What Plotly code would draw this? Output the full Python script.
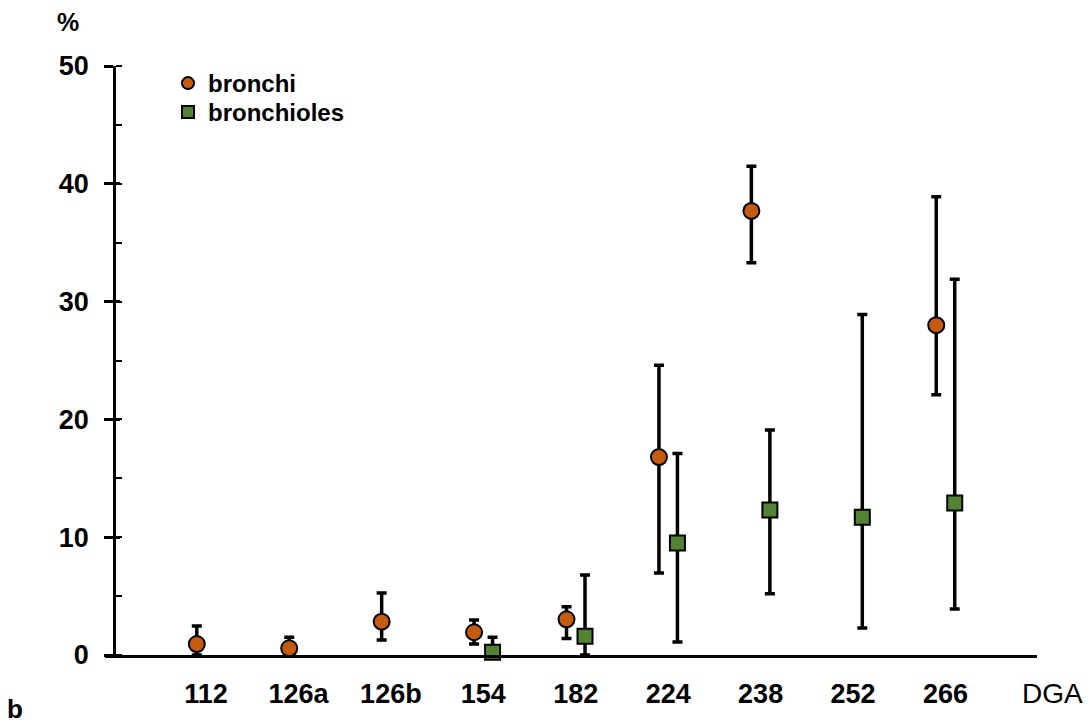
import plotly.graph_objects as go

categories = ["112", "126a", "126b", "154", "182", "224", "238", "252", "266"]

bronchi_mean = [0.93, 0.57, 2.83, 1.93, 3.03, 16.8, 37.7, None, 28.0]
bronchi_upper = [2.46, 1.5, 5.26, 2.97, 4.1, 24.6, 41.5, None, 38.9]
bronchi_lower = [0.0, 0.0, 1.27, 0.93, 1.4, 6.96, 33.3, None, 22.1]

bronchioles_mean = [None, None, None, 0.23, 1.6, 9.5, 12.3, 11.7, 12.9]
bronchioles_upper = [None, None, None, 1.5, 6.8, 17.1, 19.1, 28.9, 31.9]
bronchioles_lower = [None, None, None, 0.0, 0.0, 1.1, 5.2, 2.3, 3.9]

y_ticks = [0, 10, 20, 30, 40, 50]

FONT = "Liberation Sans, Arial, sans-serif"
ORANGE = "#C55A11"
GREEN = "#548235"
OFFSET = 0.1

def diff(a, b):
    return [None if (x is None or y is None) else x - y for x, y in zip(a, b)]

idx = list(range(len(categories)))

fig = go.Figure()
fig.add_trace(go.Scatter(
    x=[i - OFFSET for i in idx], y=bronchi_mean, mode="markers", name="bronchi",
    legend="legend",
    marker=dict(symbol="circle", size=16, color=ORANGE, line=dict(color="black", width=2)),
    error_y=dict(type="data", symmetric=False,
                 array=diff(bronchi_upper, bronchi_mean),
                 arrayminus=diff(bronchi_mean, bronchi_lower),
                 color="black", thickness=3.5, width=5),
    cliponaxis=False,
))
fig.add_trace(go.Scatter(
    x=[i + OFFSET for i in idx], y=bronchioles_mean, mode="markers", name="bronchioles",
    legend="legend2",
    marker=dict(symbol="square", size=15, color=GREEN, line=dict(color="black", width=2)),
    error_y=dict(type="data", symmetric=False,
                 array=diff(bronchioles_upper, bronchioles_mean),
                 arrayminus=diff(bronchioles_mean, bronchioles_lower),
                 color="black", thickness=3.5, width=5),
    cliponaxis=False,
))
# invisible trace for the overlay axis that draws the inner halves of the major ticks
fig.add_trace(go.Scatter(x=[None], y=[None], yaxis="y2", showlegend=False, hoverinfo="skip"))

L, R, T, B = 105, 1037, 66, 655
W, H = 1088, 725
ypos = (114 - L) / (R - L)

def px_x(p):
    return (p - L) / (R - L)

def px_y(p):
    return (B - p) / (B - T)

legend_font = dict(family=FONT, size=24, color="black", weight="bold")

fig.update_layout(
    width=W, height=H,
    margin=dict(l=L, r=W - R, t=T, b=H - B, autoexpand=False),
    plot_bgcolor="white", paper_bgcolor="white",
    font=dict(family=FONT, color="black"),
    showlegend=True,
    legend=dict(x=px_x(168), y=px_y(61), xanchor="left", yanchor="top",
                font=legend_font, bgcolor="rgba(0,0,0,0)", itemsizing="constant"),
    legend2=dict(x=px_x(168), y=px_y(90), xanchor="left", yanchor="top",
                 font=legend_font, bgcolor="rgba(0,0,0,0)", itemsizing="constant"),
    xaxis=dict(range=[-1.093, 8.99], tickmode="array", tickvals=idx, ticktext=categories,
               showline=True, linecolor="black", linewidth=2.5, showgrid=False, zeroline=False,
               ticks="", ticklabelstandoff=13, automargin=False,
               tickfont=dict(family=FONT, size=27, color="black", weight="bold")),
    yaxis=dict(range=[0, 50], tickmode="array", tickvals=y_ticks,
               anchor="free", position=ypos, automargin=False,
               showline=True, linecolor="black", linewidth=2.5, showgrid=False, zeroline=False,
               ticks="outside", ticklen=9, tickwidth=2.5, tickcolor="black",
               ticklabelstandoff=10,
               minor=dict(ticks="inside", dtick=5, ticklen=6, tickwidth=2, tickcolor="black", showgrid=False),
               tickfont=dict(family=FONT, size=27, color="black", weight="bold")),
    yaxis2=dict(range=[0, 50], overlaying="y", anchor="free", position=ypos, side="left",
                tickmode="array", tickvals=y_ticks, ticks="inside", ticklen=5, tickwidth=2.5,
                tickcolor="black", showticklabels=False, showline=False, showgrid=False,
                zeroline=False, automargin=False),
    annotations=[
        dict(text="%", xref="paper", yref="paper", x=px_x(68), y=px_y(22),
             xanchor="center", yanchor="middle", showarrow=False,
             font=dict(family=FONT, size=25, color="black", weight="bold")),
        dict(text="DGA", xref="paper", yref="paper", x=px_x(1052), y=px_y(693),
             xanchor="center", yanchor="middle", showarrow=False,
             font=dict(family=FONT, size=28, color="black")),
        dict(text="b", xref="paper", yref="paper", x=px_x(15), y=px_y(709),
             xanchor="center", yanchor="middle", showarrow=False,
             font=dict(family=FONT, size=26, color="black", weight="bold")),
    ],
)

fig.write_html("out.html")
